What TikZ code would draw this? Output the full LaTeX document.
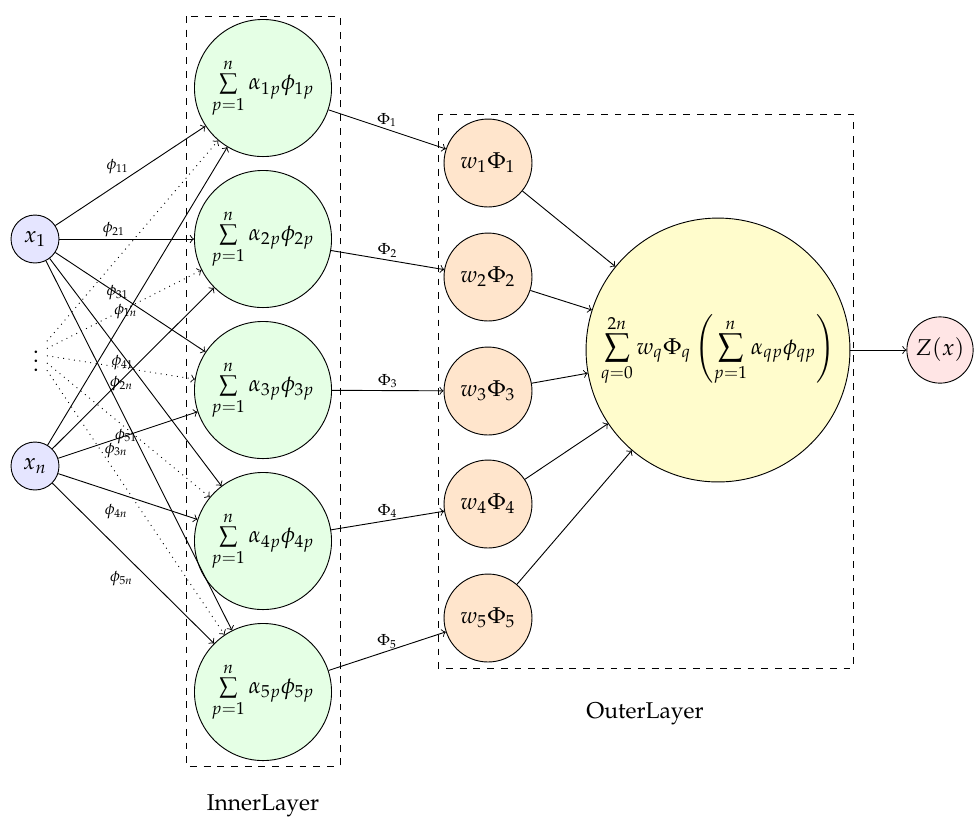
\documentclass[tikz,border=0pt]{standalone}
\usepackage[T1]{fontenc}
\usepackage{mathpazo}

\begin{document}
\begin{tikzpicture}[x=0.4377pt,y=-0.4377pt,
    inp/.style={circle,draw,fill=blue!10,minimum size=21pt,inner sep=0pt},
    inner/.style={circle,draw,fill=green!10,minimum size=60pt,inner sep=0pt},
    outer/.style={circle,draw,fill=orange!20,minimum size=38.5pt,inner sep=0pt},
    sumnode/.style={circle,draw,fill=yellow!20,minimum size=115.5pt,inner sep=0pt},
    outp/.style={circle,draw,fill=red!10,minimum size=29pt,inner sep=0pt},
    wt/.style={font=\scriptsize,midway}]
    \useasboundingbox (0,0) rectangle (975,819);
    % layers
    \draw[dashed] (186,16) rectangle (340,766);
    \draw[dashed] (438,114) rectangle (853,668);
    \node (innerlbl) at (263,806) {InnerLayer};
    \node (outerlbl) at (645,714) {OuterLayer};
    % inputs
    \node[inp] (x1) at (35,239) {$x_1$};
    \node[inp] (xn) at (35,466) {$x_n$};
    \node (dots) at (36,354) {$\vdots$};
    \foreach \i/\y in {1/88,2/239,3/390,4/541,5/692}
      \node[inner] (s\i) at (263,\y) {$\sum\limits_{p=1}^{n}\alpha_{\i p}\phi_{\i p}$};
    \foreach \i/\y in {1/163,2/277,3/391,4/504,5/618}
      \node[outer] (w\i) at (488,\y) {$w_\i\Phi_\i$};
    \node[sumnode] (sum) at (718,350)
      {$\displaystyle\sum_{q=0}^{2n}w_q\Phi_q\left(\sum_{p=1}^{n}\alpha_{qp}\phi_{qp}\right)$};
    \node[outp] (z) at (940,350) {$Z(x)$};
    % connections
    \foreach \i in {1,...,5}{
      \draw[->] (x1) -- node[wt,above left,inner sep=0.6pt] {$\phi_{\i1}$} (s\i);
      \draw[->] (xn) -- node[wt,below left,xshift=3.5pt] {$\phi_{\i n}$} (s\i);
      \draw[->,dotted] (dots) -- (s\i);
      \draw[->] (s\i) -- node[wt,above,inner sep=1pt] {$\Phi_\i$} (w\i);
      \draw[->] (w\i) -- (sum);
    }
    \draw[->] (sum) -- (z);
\end{tikzpicture}
\end{document}
